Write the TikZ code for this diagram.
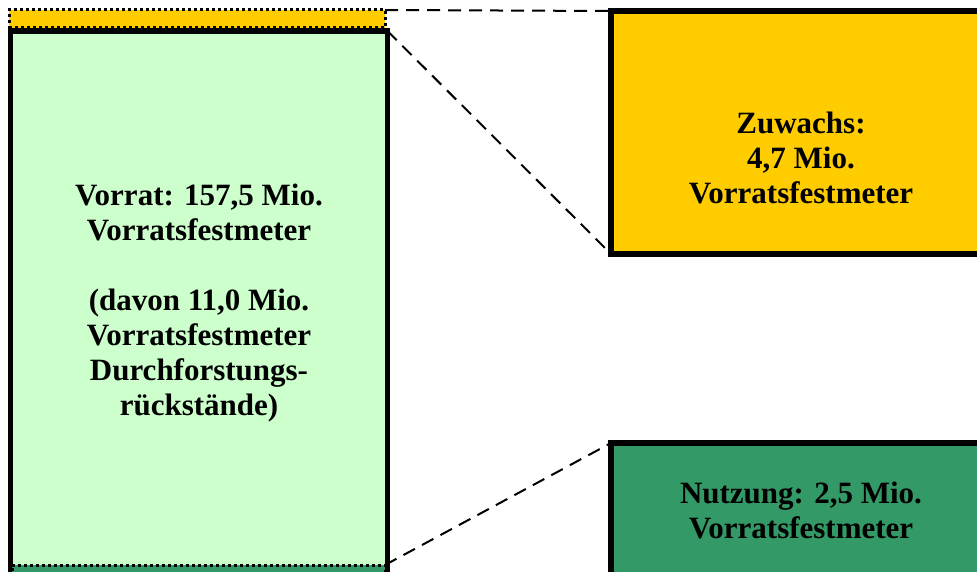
\documentclass[tikz,border=0pt]{standalone}
\usepackage{fontspec}
\setmainfont{Liberation Serif}
\usetikzlibrary{positioning}
\definecolor{zuwachsyellow}{HTML}{FFCC00}
\definecolor{vorratgreen}{HTML}{CCFFCC}
\definecolor{nutzunggreen}{HTML}{339966}
\newcommand\boxfont{\fontsize{31}{35}\selectfont\bfseries}

\begin{document}
\begin{tikzpicture}[x=1pt, y=-1pt,
  box/.style = {draw, line width=5.5pt, rectangle, anchor=north west, outer sep=0pt, inner sep=0pt, align=center, font=\boxfont},
  strip/.style = {draw, line width=3pt, dash pattern=on 3pt off 3pt, rectangle, anchor=north west, outer sep=0pt, inner sep=0pt},
  link/.style = {line width=2pt, dash pattern=on 13pt off 8pt}]
\useasboundingbox (0,0) rectangle (977,572);
\clip (0,0) rectangle (977,572);
\node[box, fill=vorratgreen, minimum width=377pt, minimum height=544pt] (vorrat) at (10.5,31) {Vorrat: 157,5 Mio.\\Vorratsfestmeter\\[35pt](davon 11,0 Mio.\\Vorratsfestmeter\\Durchforstungs-\\rückstände)};
\node[strip, fill=zuwachsyellow, minimum width=376pt, minimum height=18pt] (zuwachsstrip) at (9,10) {};
\node[strip, fill=nutzunggreen, minimum width=373pt, minimum height=25pt] (nutzungstrip) at (12,565) {};
\node[box, fill=zuwachsyellow, minimum width=380pt, minimum height=243pt] (zuwachs) at (611,11) {};
\node[align=center, font=\boxfont, inner sep=0pt] (zuwachstext) at ([yshift=-25pt]zuwachs.center) {Zuwachs:\\4,7 Mio.\\Vorratsfestmeter};
\node[box, fill=nutzunggreen, minimum width=380pt, minimum height=134pt] (nutzung) at (611,443) {Nutzung: 2,5 Mio.\\Vorratsfestmeter};
\draw[link] (zuwachsstrip.north east) -- (zuwachs.north west);
\draw[link] (vorrat.north east) -- (zuwachs.south west);
\draw[link] (nutzungstrip.north east) -- (nutzung.north west);
\end{tikzpicture}
\end{document}
